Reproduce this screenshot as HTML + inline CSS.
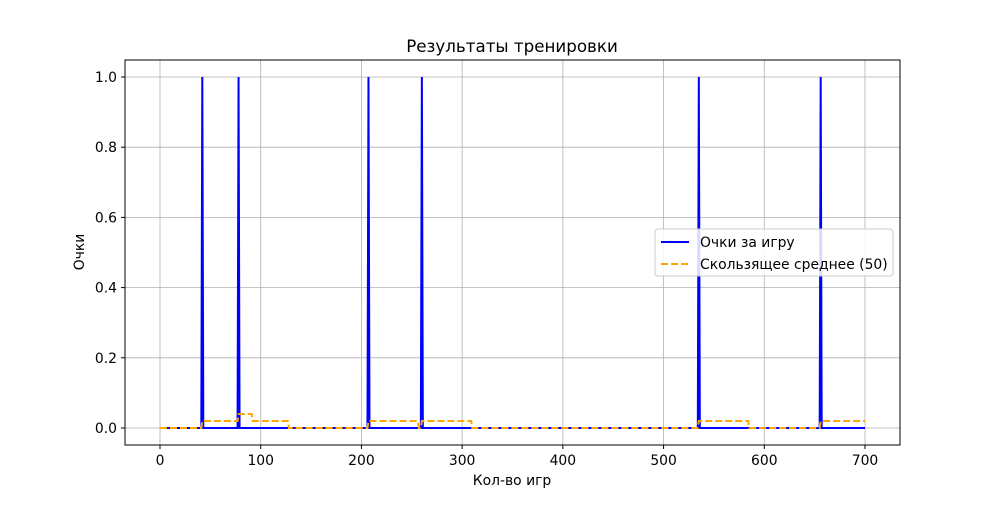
<!DOCTYPE html>
<html><head><meta charset="utf-8"><style>
body{margin:0;background:#fff;}
svg text{font-family:"DejaVu Sans","Liberation Sans",sans-serif;fill:#000;}
</style></head><body>
<svg id="chart" width="1000" height="500">
<rect width="1000" height="500" fill="#fff"/>
<text x="512" y="52" font-size="16.7" text-anchor="middle">Результаты тренировки</text>
<g id="grid"></g><g id="series"></g>
<rect x="125" y="60" width="775" height="385" fill="none" stroke="#000" stroke-width="1"/>
<g id="axes"></g>
<text x="512" y="485" font-size="13.9" text-anchor="middle">Кол-во игр</text>
<text transform="translate(84,252) rotate(-90)" font-size="13.9" text-anchor="middle">Очки</text>
<g>
<rect x="655" y="229" width="238" height="47" rx="3" fill="#fff" fill-opacity="0.85" stroke="#ccc"/>
<line x1="661" y1="242" x2="689" y2="242" stroke="#0000ff" stroke-width="2"/>
<text x="700" y="247" font-size="13.9">Очки за игру</text>
<line x1="661" y1="264" x2="689" y2="264" stroke="#ffa500" stroke-width="2" stroke-dasharray="7,3"/>
<text x="700" y="269" font-size="13.9">Скользящее среднее (50)</text>
</g>
</svg>
<script>
const totalGames = 701;
const winGames = [42, 78, 207, 260, 535, 656];
const windowSize = 50;
const xTicks = [0,100,200,300,400,500,600,700];
const yTicks = [0,0.2,0.4,0.6,0.8,1.0];
const NS="http://www.w3.org/2000/svg";
const X=v=>160+v*(865-160)/700;
const Y=v=>428-v*(428-77);
function mk(t,a,p){const e=document.createElementNS(NS,t);for(const k in a)e.setAttribute(k,a[k]);p.appendChild(e);return e;}
const grid=document.getElementById('grid'),axes=document.getElementById('axes'),series=document.getElementById('series');
xTicks.forEach(t=>{
 const g=mk('line',{x1:X(t),x2:X(t),y1:60,y2:445,stroke:'#b0b0b0','stroke-width':0.8},grid);
 
 
 mk('line',{x1:X(t),x2:X(t),y1:445,y2:449,stroke:'#000'},axes);
 const tx=mk('text',{x:X(t),y:465,'font-size':13.9,'text-anchor':'middle'},axes);tx.textContent=t;
 
 
});
yTicks.forEach(t=>{
 const g=mk('line',{x1:125,x2:900,y1:Y(t),y2:Y(t),stroke:'#b0b0b0','stroke-width':0.8},grid);
 
 
 mk('line',{x1:121,x2:125,y1:Y(t),y2:Y(t),stroke:'#000'},axes);
 const tx=mk('text',{x:117,y:Y(t)+5,'font-size':13.9,'text-anchor':'end'},axes);tx.textContent=t.toFixed(1);
 
 
});
const scores=new Array(totalGames).fill(0);winGames.forEach(g=>scores[g]=1);
const ma=scores.map((_,i)=>{let s=0;for(let j=Math.max(0,i-windowSize+1);j<=i;j++)s+=scores[j];return s/windowSize;});
const p1=mk('path',{d:scores.map((v,i)=>(i?'L':'M')+X(i).toFixed(2)+','+Y(v).toFixed(2)).join(''),fill:'none',stroke:'#0000ff','stroke-width':2},series);


const p2=mk('path',{d:ma.map((v,i)=>(i?'L':'M')+X(i).toFixed(2)+','+Y(v).toFixed(2)).join(''),fill:'none',stroke:'#ffa500','stroke-width':2,'stroke-dasharray':'7,3'},series);


</script>
</body></html>
